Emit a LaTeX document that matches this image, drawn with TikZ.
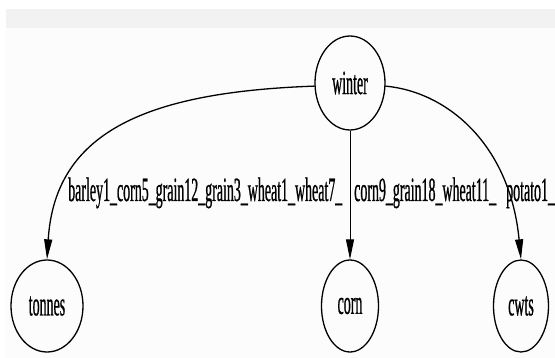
\documentclass[tikz,border=0pt]{standalone}
\usepackage{fontspec}
\usetikzlibrary{arrows.meta,shapes.geometric}
\newfontfamily\lblfont[FakeStretch=0.41,FakeBold=0.6]{Liberation Serif}
\definecolor{bandgray}{RGB}{242,242,242}
\definecolor{paper}{RGB}{251,252,251}
\begin{document}
\begin{tikzpicture}[x=1pt,y=-1pt,
  every node/.style={font=\lblfont\fontsize{34}{36}\selectfont},
  vert/.style={draw=black,line width=1.3pt,ellipse,inner sep=0pt},
  conn/.style={draw=black,line width=1.3pt,-{Triangle[length=20pt,width=8pt]}},
  lbl/.style={anchor=base west,inner sep=0pt}]
\useasboundingbox (0,0) rectangle (555,358);
\fill[white] (0,0) rectangle (555,358);
\fill[bandgray] (6,9) rectangle (555,28);
\fill[paper] (6,28) rectangle (555,358);
\node[vert,minimum width=70pt,minimum height=94pt] (winter) at (350,83) {winter};
\node[vert,minimum width=72pt,minimum height=92pt] (tonnes) at (47,306) {tonnes};
\node[vert,minimum width=57pt,minimum height=92pt] (corn) at (350,306) {corn};
\node[vert,minimum width=55pt,minimum height=92pt] (cwts) at (521,306) {cwts};
\draw[conn] (winter.185) .. controls (150,92) and (55,130) .. (tonnes.north);
\draw[conn,line width=0.9pt] (winter.south) -- (corn.north);
\draw[conn] (winter.355) .. controls (448,92) and (510,145) .. (cwts.north);
\node[lbl] (l1) at (68,201) {barley1\_corn5\_grain12\_grain3\_wheat1\_wheat7\_};
\node[lbl] (l2) at (354,201) {corn9\_grain18\_wheat11\_};
\node[lbl] (l3) at (506,201) {potato1\_};
\end{tikzpicture}
\end{document}
